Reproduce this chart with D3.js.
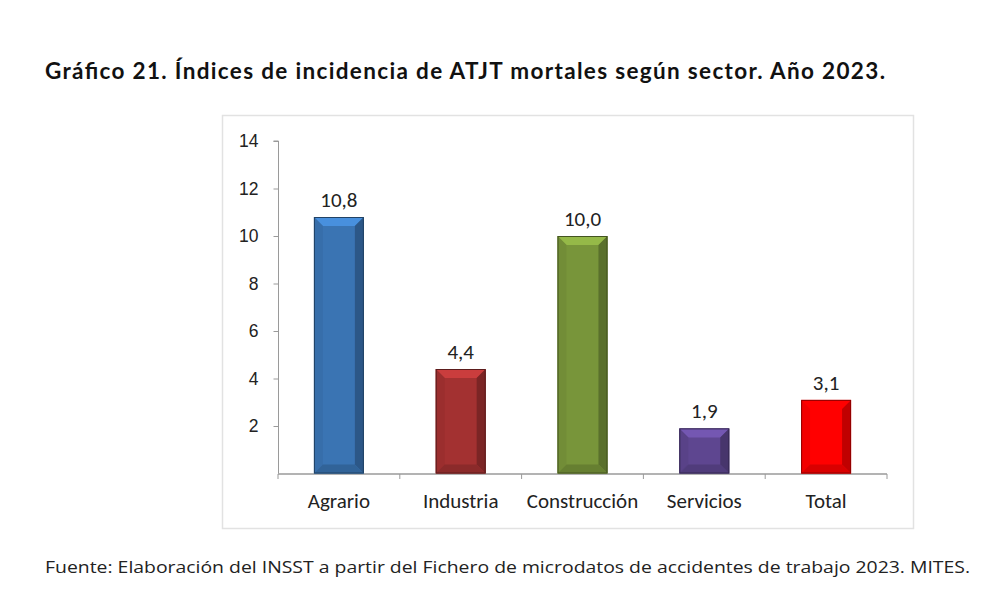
<!DOCTYPE html>
<html>
<head>
<meta charset="utf-8">
<script src="https://cdn.jsdelivr.net/npm/d3@7"></script>
<style>
  body { margin: 0; background: #fff; }
  svg { display: block; }
</style>
</head>
<body>
<div id="chart"></div>
<script>
// data
const sectors = ["Agrario", "Industria", "Construcción", "Servicios", "Total"];
const values = [10.8, 4.4, 10.0, 1.9, 3.1];
const barColors = ["#3a74b3", "#a33131", "#78953a", "#5e4690", "#ff0000"];
const yTicks = [2, 4, 6, 8, 10, 12, 14];

const w = 1000;
const h = 600;
const fmt = d => d.toFixed(1).replace(".", ",");

const svg = d3.select("#chart").append("svg").attr("width", w).attr("height", h);

// title
svg.append("text")
  .attr("x", 45).attr("y", 79)
  .style("font-family", "Lato, 'Open Sans', sans-serif")
  .style("font-weight", "bold")
  .style("font-size", "22.5px")
  .attr("fill", "#111")
  .attr("textLength", 840)
  .text("Gráfico 21. Índices de incidencia de ATJT mortales según sector. Año 2023.");

// chart frame
svg.append("rect")
  .attr("x", 222.5).attr("y", 115.5)
  .attr("width", 691).attr("height", 413)
  .attr("fill", "#fff")
  .attr("stroke", "#e2e2e2")
  .attr("stroke-width", 1.5);

// scales
const x = d3.scaleBand().domain(sectors).range([278, 887]).paddingInner(0.59).paddingOuter(0.295);
const xBounds = d3.scaleLinear().domain([0, sectors.length]).range([278, 887]);
const y = d3.scaleLinear().domain([0, 14]).range([473.5, 141]);

// y axis
const yAxis = d3.axisLeft(y).tickValues(yTicks).tickSize(5).tickPadding(15);
const gy = svg.append("g").attr("transform", "translate(278.5,0)").call(yAxis);
gy.select(".domain").attr("stroke", "#9a9a9a").attr("d", "M-5," + y(14) + "H0V" + y(0));
gy.selectAll(".tick line").attr("stroke", "#9a9a9a");
gy.selectAll(".tick text")
  .style("font-family", "Arial, 'Liberation Sans', sans-serif")
  .style("font-size", "17.5px")
  .attr("fill", "#222");

// x axis: baseline and category boundary ticks
const gx = svg.append("g").attr("transform", "translate(0," + (y(0) + 0.5) + ")");
gx.append("line")
  .attr("x1", xBounds(0)).attr("x2", xBounds(sectors.length))
  .attr("stroke", "#9a9a9a").attr("stroke-width", 1.5);
gx.selectAll("line.tk")
  .data(d3.range(sectors.length + 1))
  .enter().append("line")
  .attr("class", "tk")
  .attr("x1", d => xBounds(d)).attr("x2", d => xBounds(d))
  .attr("y1", 0).attr("y2", 5)
  .attr("stroke", "#9a9a9a");
gx.selectAll("text")
  .data(sectors)
  .enter().append("text")
  .attr("x", d => x(d) + x.bandwidth() / 2)
  .attr("y", 34)
  .attr("text-anchor", "middle")
  .style("font-family", "Carlito, 'Liberation Sans', Lato, sans-serif")
  .style("font-size", "21px")
  .attr("fill", "#222")
  .text(d => d);

// bars with a bevel look
const bev = 9;
const bars = svg.selectAll("g.bar")
  .data(sectors.map((s, i) => ({ s: s, v: values[i], c: barColors[i] })))
  .enter().append("g").attr("class", "bar");

bars.each(function(d) {
  const g = d3.select(this);
  const x0 = x(d.s), x1 = x(d.s) + x.bandwidth();
  const y0 = y(d.v), y1 = y(0);
  const base = d3.color(d.c);
  const b = Math.min(bev, (y1 - y0) / 3);
  g.append("rect")
    .attr("x", x0).attr("y", y0).attr("width", x1 - x0).attr("height", y1 - y0)
    .attr("fill", base.toString());
  // top facet
  g.append("polygon")
    .attr("points", [[x0, y0], [x1, y0], [x1 - b, y0 + b], [x0 + b, y0 + b]].join(" "))
    .attr("fill", base.brighter(0.6).toString());
  // left facet
  g.append("polygon")
    .attr("points", [[x0, y0], [x0 + b, y0 + b], [x0 + b, y1 - b], [x0, y1]].join(" "))
    .attr("fill", base.darker(0.15).toString());
  // right facet
  g.append("polygon")
    .attr("points", [[x1, y0], [x1 - b, y0 + b], [x1 - b, y1 - b], [x1, y1]].join(" "))
    .attr("fill", base.darker(0.8).toString());
  // bottom facet
  g.append("polygon")
    .attr("points", [[x0, y1], [x0 + b, y1 - b], [x1 - b, y1 - b], [x1, y1]].join(" "))
    .attr("fill", base.darker(0.45).toString());
  g.append("rect")
    .attr("x", x0 + 0.5).attr("y", y0 + 0.5).attr("width", x1 - x0 - 1).attr("height", y1 - y0 - 1)
    .attr("fill", "none")
    .attr("stroke", base.darker(1.6).toString())
    .attr("stroke-width", 1);
  g.append("text")
    .attr("x", (x0 + x1) / 2)
    .attr("y", y0 - 10)
    .attr("text-anchor", "middle")
    .style("font-family", "Carlito, 'Liberation Sans', Lato, sans-serif")
    .style("font-size", "21px")
    .attr("fill", "#222")
    .text(fmt(d.v));
});

// source note
svg.append("text")
  .attr("x", 45).attr("y", 573)
  .style("font-family", "'Open Sans', Lato, sans-serif")
  .style("font-size", "17px")
  .attr("fill", "#222")
  .attr("textLength", 925)
  .attr("lengthAdjust", "spacingAndGlyphs")
  .text("Fuente: Elaboración del INSST a partir del Fichero de microdatos de accidentes de trabajo 2023. MITES.");
</script>
</body>
</html>
